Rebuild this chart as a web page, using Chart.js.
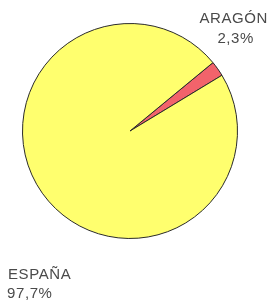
<!DOCTYPE html>
<html>
<head>
<meta charset="utf-8">
<script src="https://cdn.jsdelivr.net/npm/chart.js@4"></script>
<style>
  html, body { margin: 0; padding: 0; background: #fff; }
  #wrap { width: 268px; height: 302px; position: relative; }
</style>
</head>
<body>
<div id="wrap"><canvas id="pieChart"></canvas></div>
<script>
const labels = ["ARAGÓN", "ESPAÑA"];
const values = [2.3, 97.7];
const valueLabels = ["2,3%", "97,7%"];
const colors = ["#f2636b", "#ffff6e"];

// text labels placed like the printed figure
const textPlugin = {
  id: "sliceText",
  afterDraw(chart) {
    const ctx = chart.ctx;
    ctx.save();
    ctx.fillStyle = "#4a4a4a";
    ctx.font = "15px 'Liberation Sans', Arial, sans-serif";
    ctx.textBaseline = "alphabetic";
    ctx.letterSpacing = "0.6px";
    ctx.textAlign = "right";
    ctx.fillText(labels[0], 268, 23);
    ctx.fillText(valueLabels[0], 254, 43);
    ctx.textAlign = "left";
    ctx.fillText(labels[1], 8, 279);
    ctx.fillText(valueLabels[1], 7, 298);
    ctx.restore();
  },
};

new Chart(document.getElementById("pieChart"), {
  type: "pie",
  data: {
    labels: labels,
    datasets: [
      {
        data: values,
        backgroundColor: colors,
        borderColor: "#2a2a2a",
        borderWidth: 1,
      },
    ],
  },
  options: {
    responsive: true,
    maintainAspectRatio: false,
    animation: false,
    rotation: 50.5,
    layout: { padding: { left: 22, right: 30, top: 23, bottom: 63 } },
    plugins: {
      legend: { display: false },
      tooltip: { enabled: false },
    },
  },
  plugins: [textPlugin],
});
</script>
</body>
</html>
